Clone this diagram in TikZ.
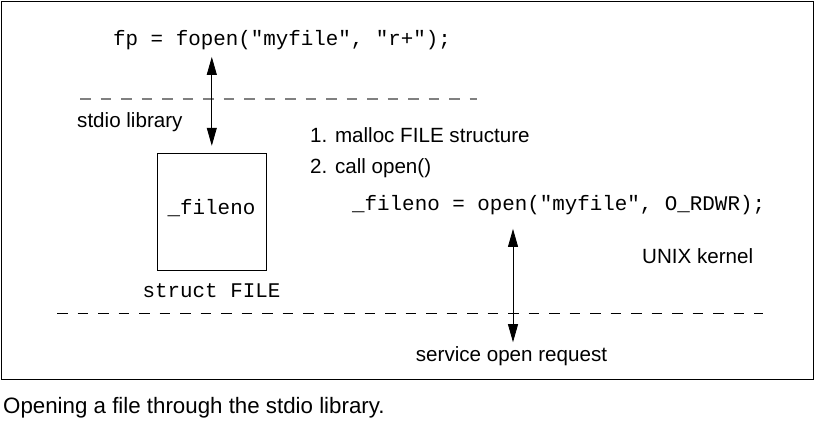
\documentclass[tikz,border=0pt]{standalone}
\usepackage{fontspec}
\setmainfont{Liberation Sans}
\setmonofont{Liberation Mono}
\usetikzlibrary{arrows.meta}

\begin{document}
\begin{tikzpicture}[x=1pt,y=-1pt]
	\tikzstyle{txt}=[inner sep=0pt,font=\fontsize{20.6}{24}\selectfont]
	\tikzstyle{code}=[inner sep=0pt,font=\fontsize{20.85}{24}\selectfont\ttfamily]
	\tikzstyle{both}=[{Triangle[length=18pt,width=10pt]}-{Triangle[length=18pt,width=10pt]},line width=0.8pt]
	\tikzstyle{sep}=[dash pattern=on 10.5pt off 10pt]
	\useasboundingbox (0,0) rectangle (816,428);
	\draw[line width=1pt] (1.5,1.5) rectangle (813,379);
	% user level
	\node[code,anchor=west] (fp) at (113,40) {fp = fopen("myfile", "r+");};
	\draw[sep,gray,line width=1.3pt] (80,99) -- (477,99);
	% library level
	\node[txt,anchor=west] (lib) at (77,122) {stdio library};
	\node[draw,line width=1pt,minimum width=109pt,minimum height=117.5pt] (box) at (211.8,212) {};
	\node[code] (fno) at (211.5,208) {\_fileno};
	\node[code] (st) at (211.5,291) {struct FILE};
	\node[txt,anchor=west] (s1) at (310,135) {1. malloc FILE structure};
	\node[txt,anchor=west] (s2) at (310,168) {2. call open()};
	\node[code,anchor=west] (open) at (352,205) {\_fileno = open("myfile", O\_RDWR);};
	\node[txt,anchor=west] (unix) at (642,256) {UNIX kernel};
	\draw[sep,line width=0.9pt] (57,313) -- (763,313);
	% kernel level
	\node[txt] (svc) at (511.5,356) {service open request};
	\node[txt,anchor=west,font=\fontsize{22.3}{26}\selectfont] (cap) at (3,408) {Opening a file through the stdio library.};
	\draw[both,shorten <=7pt,shorten >=7pt] (box.north |- fp.south) -- (box.north);
	\draw[both,shorten <=14pt,shorten >=4pt] ([xshift=1.5pt]svc.north |- open.south) -- ([xshift=1.5pt]svc.north);
\end{tikzpicture}
\end{document}
